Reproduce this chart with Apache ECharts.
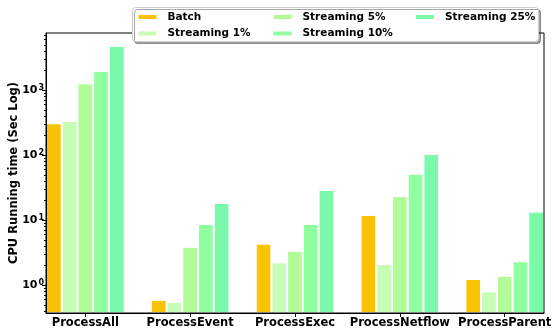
<!DOCTYPE html>
<html>
<head>
<meta charset="utf-8">
<script src="https://cdn.jsdelivr.net/npm/echarts@6/dist/echarts.min.js"></script>
<style>
  html, body { margin: 0; padding: 0; background: #fff; }
  #chart { width: 554px; height: 334px; }
</style>
</head>
<body>
<div id="chart"></div>
<script>
// CPU running time per query type, batch vs streaming (seconds, log scale)
const categories = ['ProcessAll', 'ProcessEvent', 'ProcessExec', 'ProcessNetflow', 'ProcessParent'];
const seriesNames = ['Batch', 'Streaming 1%', 'Streaming 5%', 'Streaming 10%', 'Streaming 25%'];
const batch = [313, 0.6, 4.4, 12.2, 1.26];
const streaming1 = [340, 0.557, 2.27, 2.14, 0.81];
const streaming5 = [1290, 3.95, 3.4, 23.8, 1.41];
const streaming10 = [2000, 8.85, 8.85, 52.5, 2.36];
const streaming25 = [4840, 18.6, 29.5, 105, 13.7];
const colors = ['#fac205', '#c7fdb5', '#b1fc99', '#8fff9f', '#7af9ab'];

// y axis range and tick marks
const yMin = 0.3775;
const yMax = 7670;
const yMajorTicks = [1, 10, 100, 1000];
const yMinorTicks = [0.4, 0.5, 0.6, 0.7, 0.8, 0.9,
  2, 3, 4, 5, 6, 7, 8, 9,
  20, 30, 40, 50, 60, 70, 80, 90,
  200, 300, 400, 500, 600, 700, 800, 900,
  2000, 3000, 4000, 5000, 6000, 7000];

const FONT = 'DejaVu Sans';

const valueLists = [batch, streaming1, streaming5, streaming10, streaming25];
const barSeries = valueLists.map((vals, i) => ({
  name: seriesNames[i],
  type: 'bar',
  data: vals.map((v, j) => [j, v]),
  barGap: '0%',
  barCategoryGap: '25%',
  itemStyle: { color: colors[i], borderColor: '#ffffff', borderWidth: 1 },
  emphasis: { disabled: true },
  z: 2
}));

function tickSeries(values, len) {
  return {
    type: 'custom',
    coordinateSystem: 'cartesian2d',
    data: values.map(v => [0, v]),
    clip: false,
    silent: true,
    z: 12,
    renderItem(params, api) {
      const y = Math.round(api.coord([0, api.value(1)])[1] - 0.5) + 0.5;
      const x0 = params.coordSys.x;
      return {
        type: 'line',
        shape: { x1: x0 - len, y1: y, x2: x0, y2: y },
        style: { stroke: '#000', lineWidth: 1 }
      };
    }
  };
}

const legendBase = {
  orient: 'vertical',
  top: 10.5,
  padding: 0,
  itemWidth: 20,
  itemHeight: 6,
  itemGap: 3.5,
  icon: 'rect',
  selectedMode: false,
  z: 101,
  textStyle: { fontFamily: FONT, fontWeight: 'bold', fontSize: 10.5, color: '#000', lineHeight: 13, padding: [0, 0, 0, 5] }
};

const chart = echarts.init(document.getElementById('chart'), null, { renderer: 'canvas' });
chart.setOption({
  animation: false,
  backgroundColor: '#fff',
  grid: {
    left: 46, right: 10, top: 33, bottom: 21,
    containLabel: false,
    outerBoundsMode: 'none',
    show: true,
    borderColor: '#000',
    borderWidth: 1,
    backgroundColor: 'transparent',
    z: 10
  },
  graphic: [{
    type: 'rect',
    z: 100,
    shape: { x: 132.5, y: 7.5, width: 406, height: 34, r: 3 },
    style: {
      fill: '#fff', stroke: '#cccccc', lineWidth: 1,
      shadowColor: 'rgba(0,0,0,0.35)', shadowOffsetX: 2, shadowOffsetY: 2, shadowBlur: 0
    }
  }],
  legend: [
    Object.assign({}, legendBase, { left: 136.5, data: seriesNames.slice(0, 2) }),
    Object.assign({}, legendBase, { left: 271.5, data: seriesNames.slice(2, 4) }),
    Object.assign({}, legendBase, { left: 414, data: seriesNames.slice(4, 5) })
  ],
  xAxis: {
    type: 'value',
    min: -0.375,
    max: 4.375,
    z: 11,
    splitLine: { show: false },
    axisLine: { show: true, onZero: false, lineStyle: { color: '#000', width: 1 } },
    axisTick: { show: true, length: 4, customValues: [0, 1, 2, 3, 4], lineStyle: { color: '#000' } },
    axisLabel: {
      customValues: [0, 1, 2, 3, 4],
      formatter: v => categories[Math.round(v)] || '',
      fontFamily: FONT, fontWeight: 'bold', fontSize: 11.5, color: '#000',
      margin: 4,
      hideOverlap: false
    }
  },
  yAxis: {
    type: 'log',
    logBase: 10,
    min: yMin,
    max: yMax,
    startValue: yMin,
    z: 11,
    name: 'CPU Running time (Sec Log)',
    nameLocation: 'middle',
    nameGap: 26,
    nameMoveOverlap: false,
    nameTextStyle: { fontFamily: FONT, fontWeight: 'bold', fontSize: 11.5, color: '#000' },
    splitLine: { show: false },
    axisLine: { show: true, onZero: false, lineStyle: { color: '#000', width: 1 } },
    axisTick: { show: false },
    axisLabel: {
      showMinLabel: false,
      showMaxLabel: false,
      margin: 2,
      fontFamily: FONT, fontWeight: 'bold', fontSize: 11, color: '#000',
      formatter: v => {
        const l = Math.log10(v);
        const e = Math.round(l);
        if (Math.abs(l - e) > 1e-6) return '';
        return '{b|10}{s|' + e + '}';
      },
      rich: {
        b: { fontFamily: FONT, fontWeight: 'bold', fontSize: 11, color: '#000', lineHeight: 14 },
        s: { fontFamily: FONT, fontWeight: 'bold', fontSize: 8, color: '#000', verticalAlign: 'top', lineHeight: 14, padding: [0, 0, 0, 1] }
      }
    }
  },
  series: barSeries.concat([tickSeries(yMajorTicks, 4), tickSeries(yMinorTicks, 2)])
});
</script>
</body>
</html>
